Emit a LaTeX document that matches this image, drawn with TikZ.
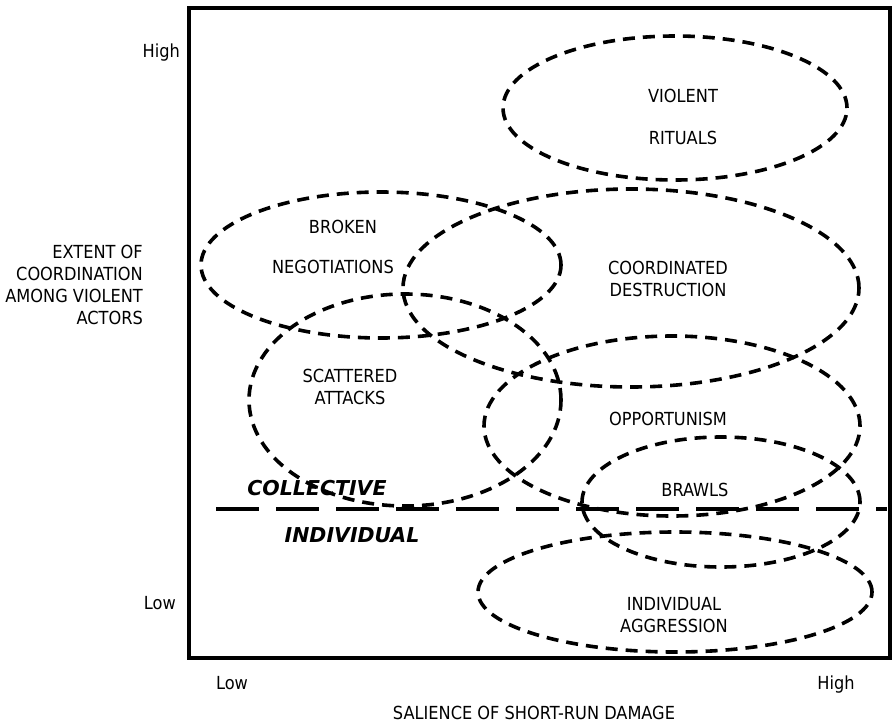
\documentclass[tikz,border=0pt]{standalone}
\usepackage{fontspec}
\setmainfont{DejaVu Sans Condensed}
\newfontfamily\headfont{DejaVu Sans}
\usetikzlibrary{shapes.geometric}
\begin{document}
\begin{tikzpicture}[x=1pt,y=-1pt,
	lbl/.style={font=\fontsize{18}{22}\selectfont, inner sep=0pt, align=center},
	side/.style={font=\headfont\bfseries\itshape\fontsize{20.5}{22}\selectfont, inner sep=0pt},
	zone/.style={draw, ellipse, inner sep=0pt, line width=3.6pt, dash pattern=on 12pt off 8pt},
	split/.style={line width=4.5pt, dash pattern=on 43pt off 17pt}]
	\useasboundingbox (0,0) rectangle (893,725);
	% frame
	\draw[line width=4pt] (189,8) rectangle (890,658);
	% zones
	\node[zone, minimum width=344pt, minimum height=144pt] (rituals) at (675,108) {};
	\node[zone, minimum width=360pt, minimum height=146pt] (negot) at (381,265) {};
	\node[zone, minimum width=456pt, minimum height=198pt] (destr) at (631,288) {};
	\node[zone, minimum width=312pt, minimum height=212pt] (scatter) at (405,400) {};
	\node[zone, minimum width=376pt, minimum height=180pt] (oppor) at (672,426) {};
	\node[zone, minimum width=278pt, minimum height=130pt] (brawl) at (721,502) {};
	\node[zone, minimum width=394pt, minimum height=120pt] (aggr) at (675,592) {};
	% zone labels (base = last line)
	\node[lbl, anchor=base] (rituals text) at (683,144.5) {VIOLENT\\[20pt]RITUALS};
	\node[lbl, anchor=base] (broken text) at (343,233.5) {BROKEN};
	\node[lbl, anchor=base] (negot text) at (333,273.5) {NEGOTIATIONS};
	\node[lbl, anchor=base] (destr text) at (668,296.5) {COORDINATED\\DESTRUCTION};
	\node[lbl, anchor=base] (scatter text) at (350,404.5) {SCATTERED\\ATTACKS};
	\node[lbl, anchor=base] (oppor text) at (668,425.5) {OPPORTUNISM};
	\node[lbl, anchor=base] (brawl text) at (695,496.5) {BRAWLS};
	\node[lbl, anchor=base] (aggr text) at (674,632.5) {INDIVIDUAL\\AGGRESSION};
	% collective / individual
	\coordinate (split west) at (216,509);
	\coordinate (split east) at (887,509);
	\draw[split] (split west) -- (split east);
	\node[side, anchor=base] (coll) at (317,495) {COLLECTIVE};
	\node[side, anchor=base] (indiv) at (352,542) {INDIVIDUAL};
	% axes
	\node[lbl, anchor=base east] (yhigh) at (180,57) {High};
	\node[lbl, anchor=base east] (ylow) at (176,609.5) {Low};
	\node[lbl, anchor=east, align=right] (ylabel) at (143,285) {EXTENT OF\\COORDINATION\\AMONG VIOLENT\\ACTORS};
	\node[lbl, anchor=base] (xlow) at (232,689.5) {Low};
	\node[lbl, anchor=base] (xhigh) at (836,689.5) {High};
	\node[lbl, anchor=base] (xlabel) at (534,719.5) {SALIENCE OF SHORT-RUN DAMAGE};
\end{tikzpicture}
\end{document}
